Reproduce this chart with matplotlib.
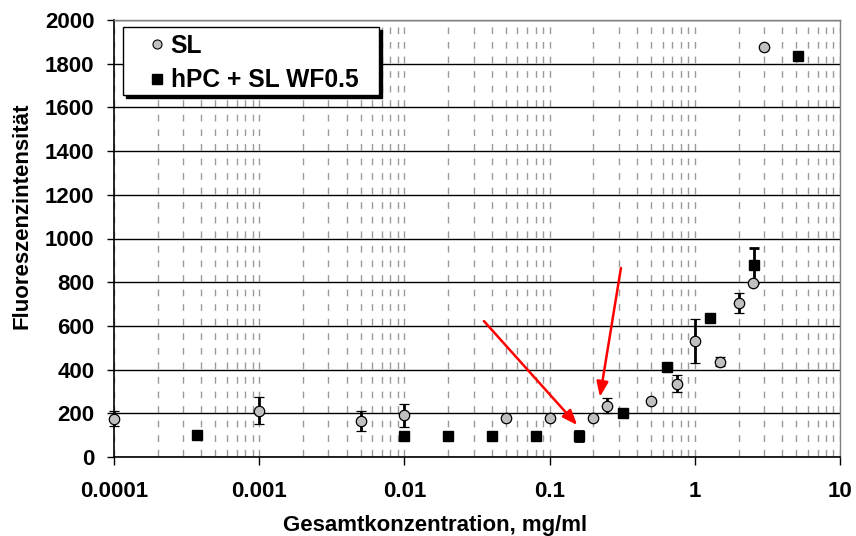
import matplotlib
matplotlib.use("Agg")
import matplotlib.pyplot as plt
from matplotlib.ticker import LogLocator, NullFormatter
from matplotlib.lines import Line2D
from matplotlib.patches import Rectangle
import numpy as np

plt.rcParams['font.family'] = ['Liberation Sans', 'DejaVu Sans']

# SL series
sl_x = [0.0001, 0.001, 0.005, 0.01, 0.05, 0.1, 0.2, 0.25, 0.5, 0.75, 1.0, 1.5, 2.0, 2.5, 3.0]
sl_y = [175, 212, 165, 190, 178, 180, 178, 235, 258, 335, 530, 437, 705, 797, 1878]
sl_err = [35, 62, 45, 52, 0, 0, 0, 35, 0, 38, 100, 22, 45, 0, 0]

# hPC + SL WF0.5 series
hpc_x = [0.00037, 0.01, 0.02, 0.04, 0.08, 0.16, 0.32, 0.64, 1.28, 2.56, 5.1]
hpc_y = [100, 96, 96, 96, 96, 97, 203, 410, 635, 877, 1835]
hpc_err = [0, 0, 20, 0, 0, 22, 0, 16, 0, 80, 0]

# annotation arrows (start, end) in data coords
arrow_starts = [(0.0353, 622), (0.31, 865)]
arrow_ends = [(0.155, 146), (0.222, 275)]

x_tick_vals = [1e-4, 1e-3, 1e-2, 1e-1, 1, 10]
x_tick_labels = ['0.0001', '0.001', '0.01', '0.1', '1', '10']
legend_labels = ['SL', 'hPC + SL WF0.5']

W, H = 856, 536
fig = plt.figure(figsize=(W / 100, H / 100), dpi=100)
L, R, T, B = 114, 840, 20, 457
ax = fig.add_axes([L / W, 1 - B / H, (R - L) / W, (B - T) / H])

ax.set_xscale('log')
ax.set_xlim(1e-4, 10)
ax.set_ylim(0, 2000)

# grid
ax.set_yticks(np.arange(0, 2001, 200))
ax.yaxis.grid(True, color='black', linewidth=1.0, linestyle='-')
ax.xaxis.set_minor_locator(LogLocator(base=10, subs=np.arange(2, 10), numticks=20))
ax.xaxis.set_minor_formatter(NullFormatter())
period_pt = (B - T) / 30 * 72 / 100
on_pt = 4.8
ax.xaxis.grid(True, which='both', color='#9a9a9a', linewidth=1.0,
              linestyle=(period_pt - 0.7, (on_pt, period_pt - on_pt)))
ax.set_axisbelow(True)

ax.set_xticks(x_tick_vals)
ax.set_xticklabels(x_tick_labels)
ax.tick_params(axis='x', which='major', direction='out', length=6, width=1, pad=11)
ax.tick_params(axis='x', which='minor', length=0)
ax.tick_params(axis='y', direction='out', length=5, width=1, pad=9)
for lab in ax.get_xticklabels() + ax.get_yticklabels():
    lab.set_fontsize(16)
    lab.set_fontweight('bold')

for s in ['top', 'right']:
    ax.spines[s].set_color('#808080')
    ax.spines[s].set_linewidth(1)
for s in ['left', 'bottom']:
    ax.spines[s].set_color('black')
    ax.spines[s].set_linewidth(1.2)

def yerr_of(errs):
    return [e if e > 0 else np.nan for e in errs]

ax.errorbar(sl_x, sl_y, yerr=yerr_of(sl_err), fmt='o', color='black', ecolor='black',
            elinewidth=2, capsize=3.5, capthick=2, markerfacecolor='#c0c0c0',
            markeredgecolor='black', markeredgewidth=0.9, markersize=7.5, zorder=4,
            clip_on=False)
ax.errorbar(hpc_x, hpc_y, yerr=yerr_of(hpc_err), fmt='s', color='black', ecolor='black',
            elinewidth=2, capsize=3.5, capthick=2, markerfacecolor='black',
            markeredgecolor='black', markersize=7.2, zorder=3, clip_on=False)

for (sx, sy), (ex, ey) in zip(arrow_starts, arrow_ends):
    ax.annotate('', xy=(ex, ey), xytext=(sx, sy),
                arrowprops=dict(arrowstyle='-|>,head_length=0.9,head_width=0.35',
                                color='#ff0000', lw=1.8, shrinkA=0, shrinkB=0),
                zorder=5)

fig.text(435 / W, 1 - 525 / H, 'Gesamtkonzentration, mg/ml', fontsize=16,
         fontweight='bold', ha='center', va='center')
fig.text(22 / W, 1 - 216 / H, 'Fluoreszenzintensität', fontsize=16,
         fontweight='bold', ha='center', va='center', rotation=90)

# legend frame with solid shadow (figure pixel coords)
bx0, by0, bx1, by1 = 123, 27, 379, 95
fig.patches.append(Rectangle(((bx0 + 3) / W, 1 - (by1 + 3) / H), (bx1 - bx0) / W,
                             (by1 - by0) / H, transform=fig.transFigure,
                             facecolor='black', edgecolor='black', zorder=1))
fig.patches.append(Rectangle((bx0 / W, 1 - by1 / H), (bx1 - bx0) / W,
                             (by1 - by0) / H, transform=fig.transFigure,
                             facecolor='white', edgecolor='black', linewidth=1,
                             zorder=1.1))

handles = [
    Line2D([], [], linestyle='none', marker='o', markersize=6.5,
           markerfacecolor='#c0c0c0', markeredgecolor='black', markeredgewidth=0.8),
    Line2D([], [], linestyle='none', marker='s', markersize=6.5,
           markerfacecolor='black', markeredgecolor='black'),
]
fs = 17.7
fs_px = fs * 100 / 72
leg = fig.legend(handles, legend_labels, loc='upper left',
                 bbox_to_anchor=((157 - fs_px / 2) / W, 1 - 34 / H),
                 frameon=False, prop={'weight': 'bold', 'size': fs},
                 handletextpad=0.05, borderpad=0, labelspacing=0.42,
                 handlelength=1.0, borderaxespad=0)
leg.set_zorder(5)

fig.savefig('out.png', dpi=100)
